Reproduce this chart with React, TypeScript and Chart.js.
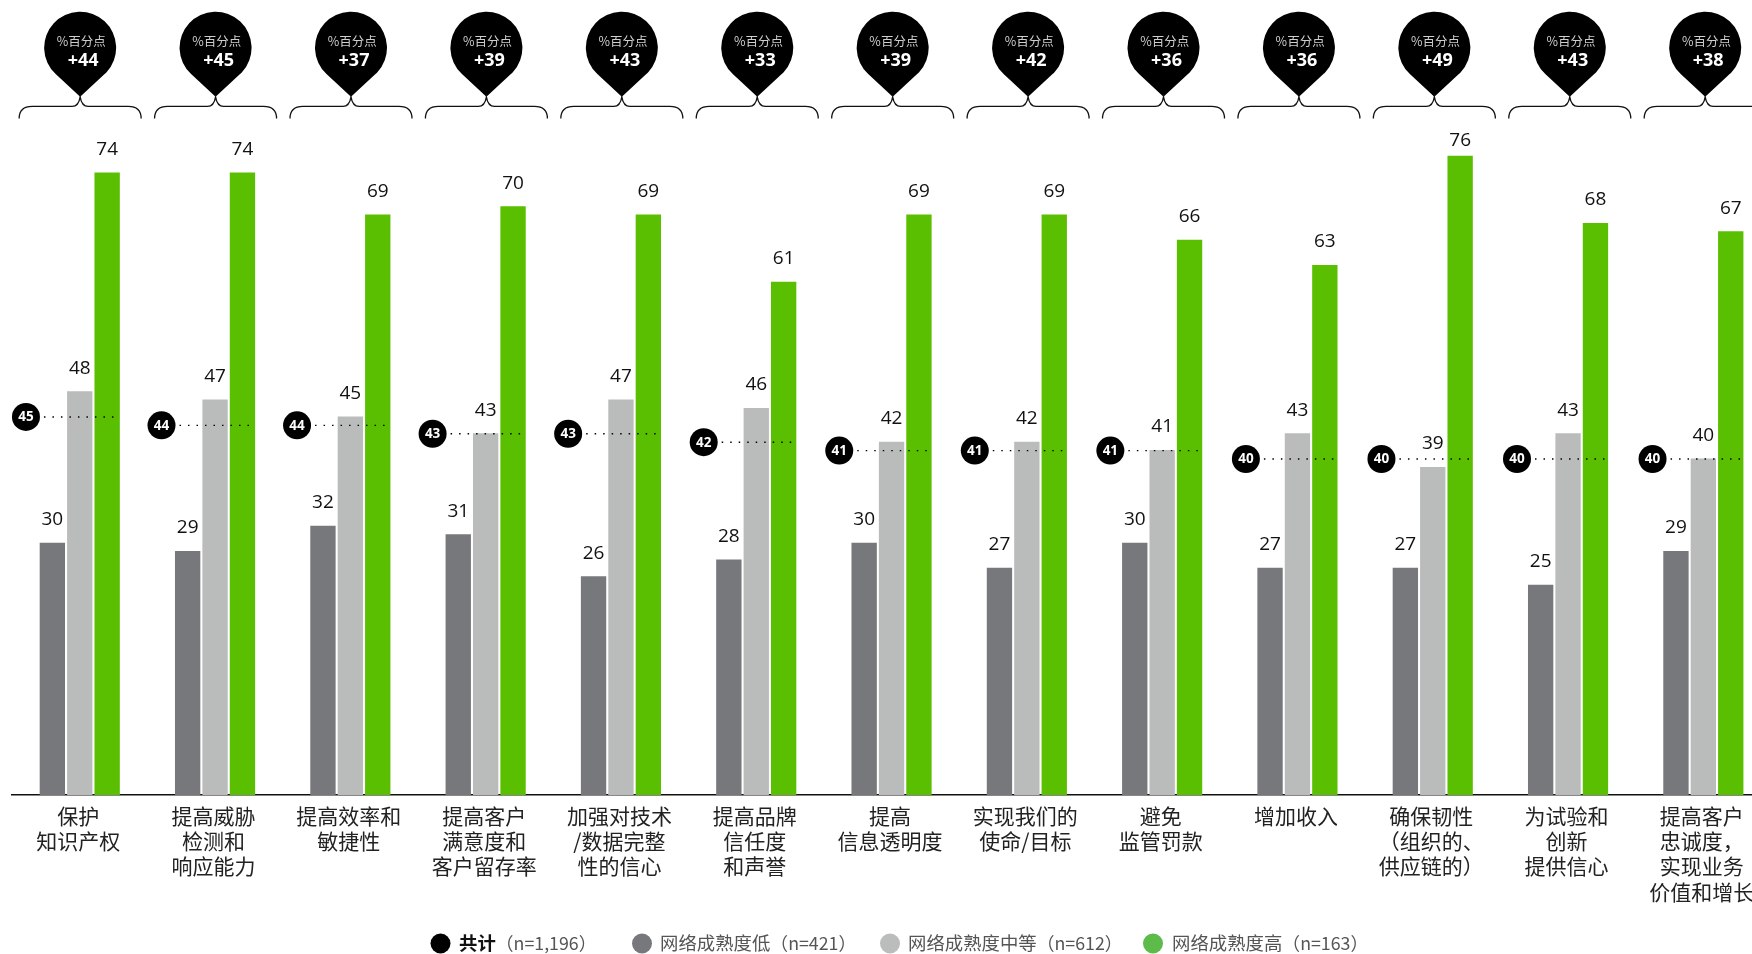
import React, { useEffect, useRef } from "react";
import { Chart, registerables } from "chart.js";

Chart.register(...registerables);

const categories: string[][] = [
  ["保护", "知识产权"],
  ["提高威胁", "检测和", "响应能力"],
  ["提高效率和", "敏捷性"],
  ["提高客户", "满意度和", "客户留存率"],
  ["加强对技术", "/数据完整", "性的信心"],
  ["提高品牌", "信任度", "和声誉"],
  ["提高", "信息透明度"],
  ["实现我们的", "使命/目标"],
  ["避免", "监管罚款"],
  ["增加收入"],
  ["确保韧性", "（组织的、", "供应链的）"],
  ["为试验和", "创新", "提供信心"],
  ["提高客户", "忠诚度，", "实现业务", "价值和增长"],
];
const lowValues = [30, 29, 32, 31, 26, 28, 30, 27, 30, 27, 27, 25, 29];
const midValues = [48, 47, 45, 43, 47, 46, 42, 42, 41, 43, 39, 43, 40];
const highValues = [74, 74, 69, 70, 69, 61, 69, 69, 66, 63, 76, 68, 67];
const totalValues = [45, 44, 44, 43, 43, 42, 41, 41, 41, 40, 40, 40, 40];
const gapValues = [44, 45, 37, 39, 43, 33, 39, 42, 36, 36, 49, 43, 38];
const gapUnit = "%百分点";
const seriesNames = ["网络成熟度低", "网络成熟度中等", "网络成熟度高"];
const seriesCounts = ["（n=421）", "（n=612）", "（n=163）"];
const totalName = "共计";
const totalCount = "（n=1,196）";

const CJK = '"Noto Sans CJK SC"';
const LATIN = '"Open Sans"';
const GRAY = "#77787B";
const LIGHT = "#BABCBB";
const GREEN = "#59BF00";

const overlay = {
  id: "overlay",
  afterDatasetsDraw(chart: any) {
    const { ctx } = chart;
    const x = chart.scales.x;
    const y = chart.scales.y;
    ctx.save();
    // value labels
    ctx.font = `19px ${LATIN}`;
    ctx.fillStyle = "#111";
    ctx.textAlign = "center";
    ctx.textBaseline = "middle";
    [0, 1, 2].forEach((d) => {
      const meta = chart.getDatasetMeta(d);
      meta.data.forEach((bar: any, i: number) => {
        const v = chart.data.datasets[d].data[i];
        ctx.fillText(String(v), bar.x, Math.max(bar.y - 23, 141));
      });
    });
    // totals
    totalValues.forEach((v, i) => {
      const cx = x.getPixelForValue(i);
      const py = y.getPixelForValue(v) + 0.5;
      const mx = cx - 53.8 + i * 0.25;
      ctx.save();
      ctx.strokeStyle = "#000";
      ctx.lineWidth = 1.4;
      ctx.setLineDash([1.5, 7]);
      ctx.beginPath();
      ctx.moveTo(mx + 18, py);
      ctx.lineTo(cx + 40, py);
      ctx.stroke();
      ctx.restore();
      ctx.fillStyle = "#000";
      ctx.beginPath();
      ctx.arc(mx, py, 14, 0, Math.PI * 2);
      ctx.fill();
      ctx.fillStyle = "#fff";
      ctx.font = `bold 13.5px ${LATIN}`;
      ctx.fillText(String(v), mx, py + 0.5);
    });
    // pins and braces
    gapValues.forEach((v, i) => {
      const cx = x.getPixelForValue(i) + 0.4 + i * 0.12;
      const r = 36;
      const cy = 47.7;
      const tip = 96.8;
      const dist = tip - cy;
      const a = Math.acos(r / dist);
      ctx.fillStyle = "#000";
      ctx.beginPath();
      ctx.moveTo(cx, tip);
      ctx.arc(cx, cy, r, Math.PI / 2 + a, Math.PI / 2 - a);
      ctx.closePath();
      ctx.fill();

      ctx.strokeStyle = "#111";
      ctx.lineWidth = 1.3;
      ctx.beginPath();
      ctx.moveTo(cx - 61, 118.5);
      ctx.quadraticCurveTo(cx - 61, 106.3, cx - 48, 106.3);
      ctx.lineTo(cx - 8, 106.3);
      ctx.quadraticCurveTo(cx - 1.5, 106.3, cx, tip);
      ctx.quadraticCurveTo(cx + 1.5, 106.3, cx + 8, 106.3);
      ctx.lineTo(cx + 48, 106.3);
      ctx.quadraticCurveTo(cx + 61, 106.3, cx + 61, 118.5);
      ctx.stroke();

      ctx.fillStyle = "#cfcfcf";
      ctx.font = `12.5px ${CJK}`;
      ctx.fillText(gapUnit, cx + 1.2, 41.5);
      ctx.fillStyle = "#fff";
      ctx.font = `bold 18px ${LATIN}`;
      ctx.fillText(`+${v}`, cx + 3, 60.5);
    });
    // legend
    const ly = 943.5;
    const item = (dot: string, dx: number, tx: number, name: string, count: string, bold: boolean) => {
      ctx.fillStyle = dot;
      ctx.beginPath();
      ctx.arc(dx, ly, 10, 0, Math.PI * 2);
      ctx.fill();
      ctx.textAlign = "left";
      ctx.font = `${bold ? "bold " : ""}18.4px ${CJK}`;
      ctx.fillStyle = bold ? "#111" : "#555";
      ctx.fillText(name, tx, ly);
      const w = ctx.measureText(name).width;
      ctx.font = `17.8px ${CJK}`;
      ctx.fillStyle = "#555";
      ctx.fillText(count, tx + w, ly);
    };
    item("#000", 440.5, 459, totalName, totalCount, true);
    item(GRAY, 642, 660, seriesNames[0], seriesCounts[0], false);
    item("#BBBCBC", 890, 908, seriesNames[1], seriesCounts[1], false);
    item("#5DBB4A", 1153, 1172, seriesNames[2], seriesCounts[2], false);
    ctx.restore();
  },
};

export default function App() {
  const ref = useRef<HTMLCanvasElement>(null);
  useEffect(() => {
    const chart = new Chart(ref.current!, {
      type: "bar",
      data: {
        labels: categories,
        datasets: [
          { label: seriesNames[0], data: lowValues, backgroundColor: GRAY },
          { label: seriesNames[1], data: midValues, backgroundColor: LIGHT },
          { label: seriesNames[2], data: highValues, backgroundColor: GREEN },
        ],
      },
      options: {
        responsive: false,
        animation: false,
        layout: { padding: { left: 12.1, right: 19, top: 122, bottom: 0 } },
        datasets: { bar: { categoryPercentage: 0.6075, barPercentage: 0.925 } },
        plugins: { legend: { display: false }, tooltip: { enabled: false } },
        scales: {
          x: {
            grid: { display: false, drawTicks: false },
            border: { display: true, color: "#111", width: 1.5 },
            afterFit(scale: any) {
              scale.height = 159;
            },
            ticks: {
              autoSkip: false,
              maxRotation: 0,
              minRotation: 0,
              padding: 8,
              labelOffset: -1.5,
              color: "#222",
              font: { family: CJK, size: 21, lineHeight: 1.205 },
            },
          },
          y: { display: false, min: 0, max: 80 },
        },
      } as any,
      plugins: [overlay],
    });
    return () => chart.destroy();
  }, []);
  return (
    <div style={{ position: "fixed", left: 0, top: 0, width: 1752, height: 954, overflow: "hidden", background: "#fff" }}>
      <canvas ref={ref} width={1790} height={954} style={{ display: "block" }} />
    </div>
  );
}
